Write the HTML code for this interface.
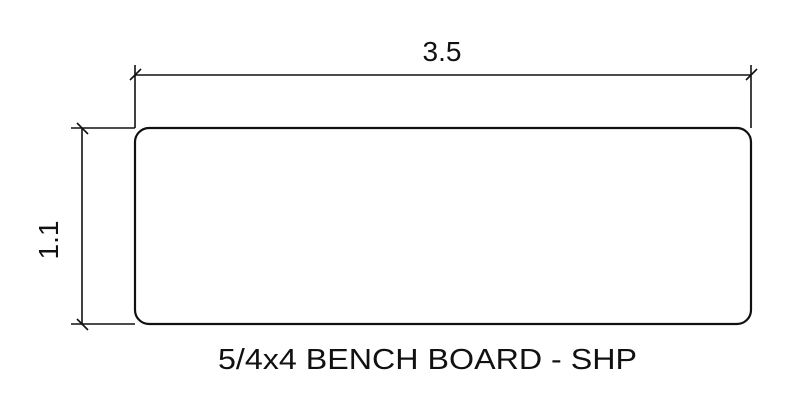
<!DOCTYPE html>
<html><head><meta charset="utf-8"><style>html,body{margin:0;padding:0;background:#fff}svg{display:block}</style></head>
<body>
<svg width="800" height="400" viewBox="0 0 800 400" xmlns="http://www.w3.org/2000/svg">
<rect x="135" y="128" width="616" height="196" rx="14" ry="14" fill="none" stroke="#111" stroke-width="2.2"/>
<g stroke="#111" stroke-width="1.6" fill="none">
<line x1="135" y1="65" x2="135" y2="128"/>
<line x1="751" y1="65" x2="751" y2="128"/>
<line x1="135" y1="75" x2="751" y2="75"/>
<line x1="130" y1="80" x2="141" y2="69"/>
<line x1="746" y1="80" x2="757" y2="69"/>
<line x1="71" y1="128" x2="135" y2="128"/>
<line x1="71" y1="324" x2="135" y2="324"/>
<line x1="82" y1="128" x2="82" y2="324"/>
<line x1="77" y1="123" x2="88" y2="134"/>
<line x1="77" y1="319" x2="88" y2="330"/>
</g>
<g font-family="Liberation Sans, sans-serif" fill="#111">
<text x="442" y="61" font-size="28" text-anchor="middle">3.5</text>
<text transform="translate(58,240) rotate(-90)" font-size="28" text-anchor="middle">1.1</text>
<text x="218" y="369" font-size="29" textLength="419" lengthAdjust="spacingAndGlyphs">5/4x4 BENCH BOARD - SHP</text>
</g>
</svg>
</body></html>
